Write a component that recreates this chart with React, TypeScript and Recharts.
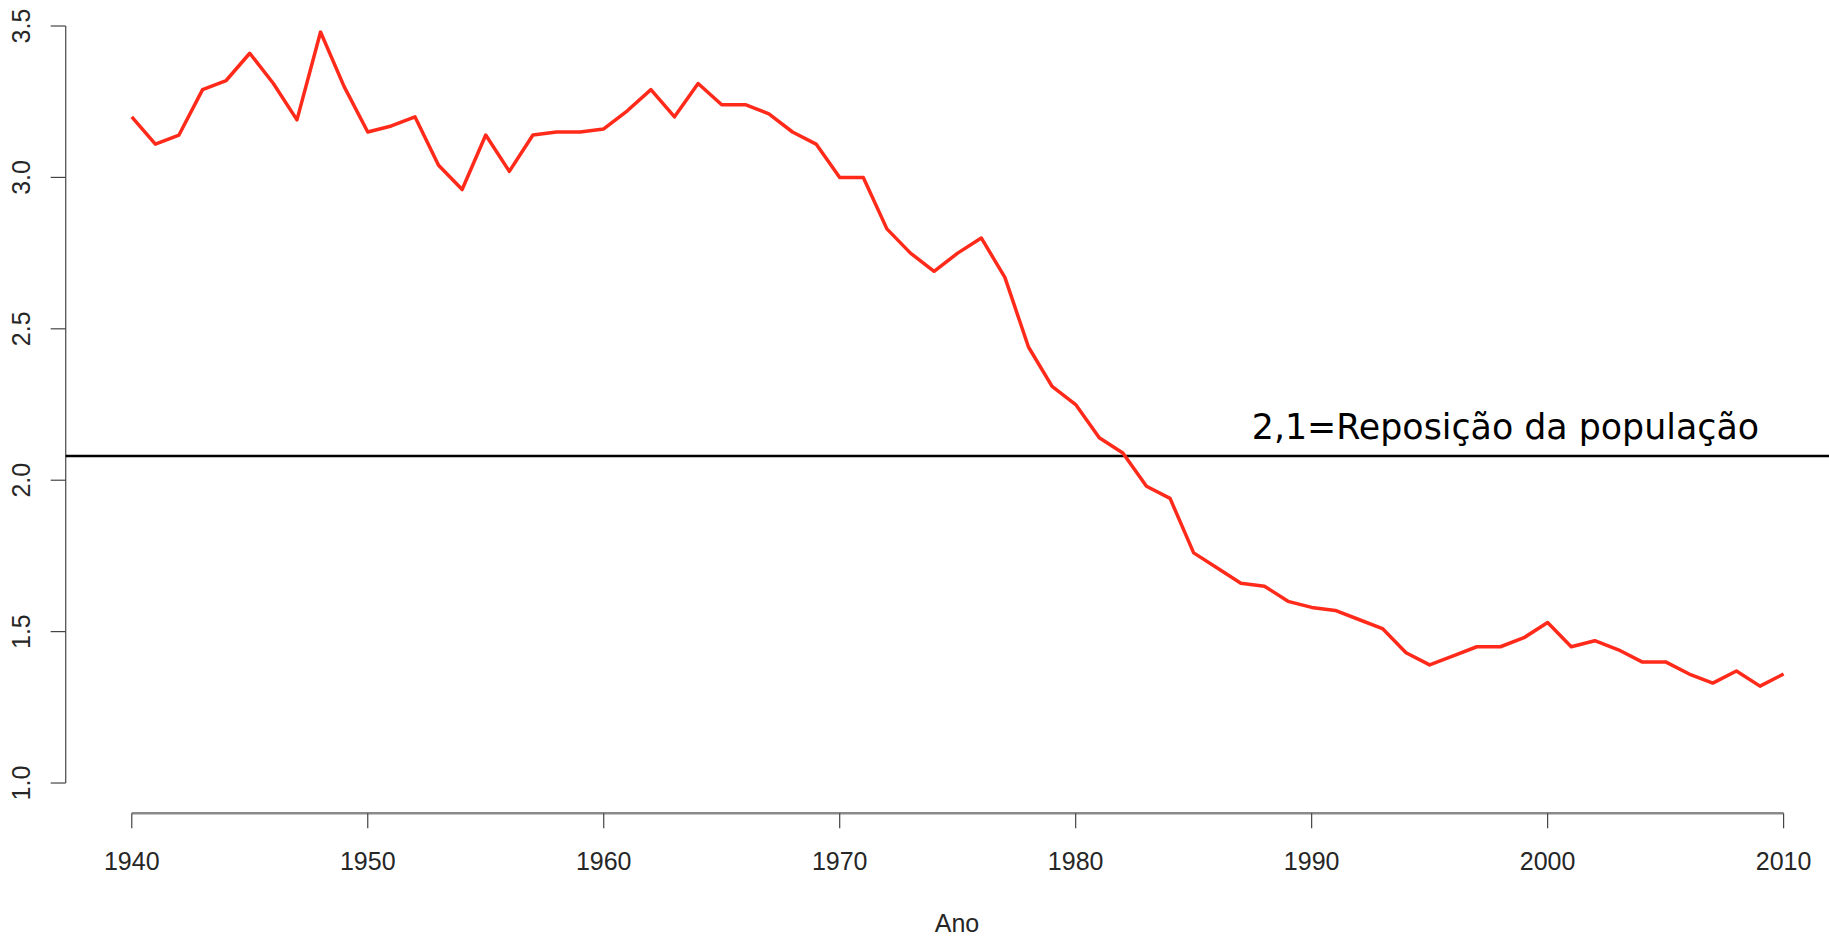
import React from 'react';
import { LineChart, Line, XAxis, YAxis, ReferenceLine } from 'recharts';

const years = [
  1940, 1941, 1942, 1943, 1944, 1945, 1946, 1947, 1948, 1949,
  1950, 1951, 1952, 1953, 1954, 1955, 1956, 1957, 1958, 1959,
  1960, 1961, 1962, 1963, 1964, 1965, 1966, 1967, 1968, 1969,
  1970, 1971, 1972, 1973, 1974, 1975, 1976, 1977, 1978, 1979,
  1980, 1981, 1982, 1983, 1984, 1985, 1986, 1987, 1988, 1989,
  1990, 1991, 1992, 1993, 1994, 1995, 1996, 1997, 1998, 1999,
  2000, 2001, 2002, 2003, 2004, 2005, 2006, 2007, 2008, 2009,
  2010,
];

const fertility = [
  3.20, 3.11, 3.14, 3.29, 3.32, 3.41, 3.31, 3.19, 3.48, 3.30,
  3.15, 3.17, 3.20, 3.04, 2.96, 3.14, 3.02, 3.14, 3.15, 3.15,
  3.16, 3.22, 3.29, 3.20, 3.31, 3.24, 3.24, 3.21, 3.15, 3.11,
  3.00, 3.00, 2.83, 2.75, 2.69, 2.75, 2.80, 2.67, 2.44, 2.31,
  2.25, 2.14, 2.09, 1.98, 1.94, 1.76, 1.71, 1.66, 1.65, 1.60,
  1.58, 1.57, 1.54, 1.51, 1.43, 1.39, 1.42, 1.45, 1.45, 1.48,
  1.53, 1.45, 1.47, 1.44, 1.40, 1.40, 1.36, 1.33, 1.37, 1.32,
  1.36,
];

const xTicks = [1940, 1950, 1960, 1970, 1980, 1990, 2000, 2010];
const yTicks = [1.0, 1.5, 2.0, 2.5, 3.0, 3.5];
const yTickLabels = ['1.0', '1.5', '2.0', '2.5', '3.0', '3.5'];
const replacementLevel = 2.08;
const replacementLabel = '2,1=Reposição da população';
const xAxisTitle = 'Ano';

const data = years.map((y, i) => ({ year: y, tfr: fertility[i] }));

const W = 1829;
const H = 937;
const X_DOMAIN: [number, number] = [1937.2, 2011.924];
const Y_DOMAIN: [number, number] = [0.9, 3.5859];
const LABEL_FONT = '"Liberation Sans", Arial, sans-serif';
const TEXT_COLOR = '#262626';

const YTick = (props: any) => {
  const { y, payload } = props;
  const idx = yTicks.indexOf(payload.value);
  const label = idx >= 0 ? yTickLabels[idx] : String(payload.value);
  return (
    <text
      transform={`translate(30, ${y}) rotate(-90)`}
      textAnchor="middle"
      fontSize={25}
      fontFamily={LABEL_FONT}
      fill={TEXT_COLOR}
    >
      {label}
    </text>
  );
};

const XTick = (props: any) => {
  const { x, payload } = props;
  return (
    <text
      x={x}
      y={870}
      textAnchor="middle"
      fontSize={25}
      fontFamily={LABEL_FONT}
      fill={TEXT_COLOR}
    >
      {payload.value}
    </text>
  );
};

export default function App() {
  return (
    <div style={{ position: 'absolute', left: 0, top: 0, width: W, height: H, background: '#fff' }}>
      <LineChart
        width={W}
        height={H}
        data={data}
        margin={{ top: 0, right: 0, bottom: 0, left: 0 }}
      >
        <XAxis
          dataKey="year"
          type="number"
          domain={X_DOMAIN}
          allowDataOverflow
          ticks={xTicks}
          interval={0}
          axisLine={false}
          tickLine={{ stroke: '#444', strokeWidth: 1.2 }}
          tickSize={15}
          tick={<XTick />}
          height={123.7}
          label={{
            content: () => (
              <text
                x={957}
                y={932}
                textAnchor="middle"
                fontSize={25}
                fontFamily={LABEL_FONT}
                fill={TEXT_COLOR}
              >
                {xAxisTitle}
              </text>
            ),
          }}
        />
        <YAxis
          type="number"
          domain={Y_DOMAIN}
          allowDataOverflow
          ticks={yTicks}
          interval={0}
          axisLine={false}
          tickLine={{ stroke: '#444', strokeWidth: 1.2 }}
          tickSize={15}
          tick={<YTick />}
          width={65.7}
        />
        <ReferenceLine
          segment={[{ x: 1940, y: 0.9 }, { x: 2010, y: 0.9 }]}
          stroke="#8a8a8a"
          strokeWidth={2.5}
          ifOverflow="visible"
        />
        <ReferenceLine
          segment={[{ x: 1937.2, y: 1.0 }, { x: 1937.2, y: 3.5 }]}
          stroke="#555"
          strokeWidth={1.3}
          ifOverflow="visible"
        />
        <ReferenceLine
          y={replacementLevel}
          stroke="#000"
          strokeWidth={2.5}
          ifOverflow="visible"
          label={{
            content: () => (
              <text
                x={1759}
                y={439}
                textAnchor="end"
                fontSize={34.8}
                fontFamily='"DejaVu Sans", sans-serif'
                fill="#000"
              >
                {replacementLabel}
              </text>
            ),
          }}
        />
        <Line
          type="linear"
          dataKey="tfr"
          stroke="#ff2a1a"
          strokeWidth={3.5}
          strokeLinejoin="round"
          dot={false}
          activeDot={false}
          isAnimationActive={false}
        />
      </LineChart>
    </div>
  );
}
